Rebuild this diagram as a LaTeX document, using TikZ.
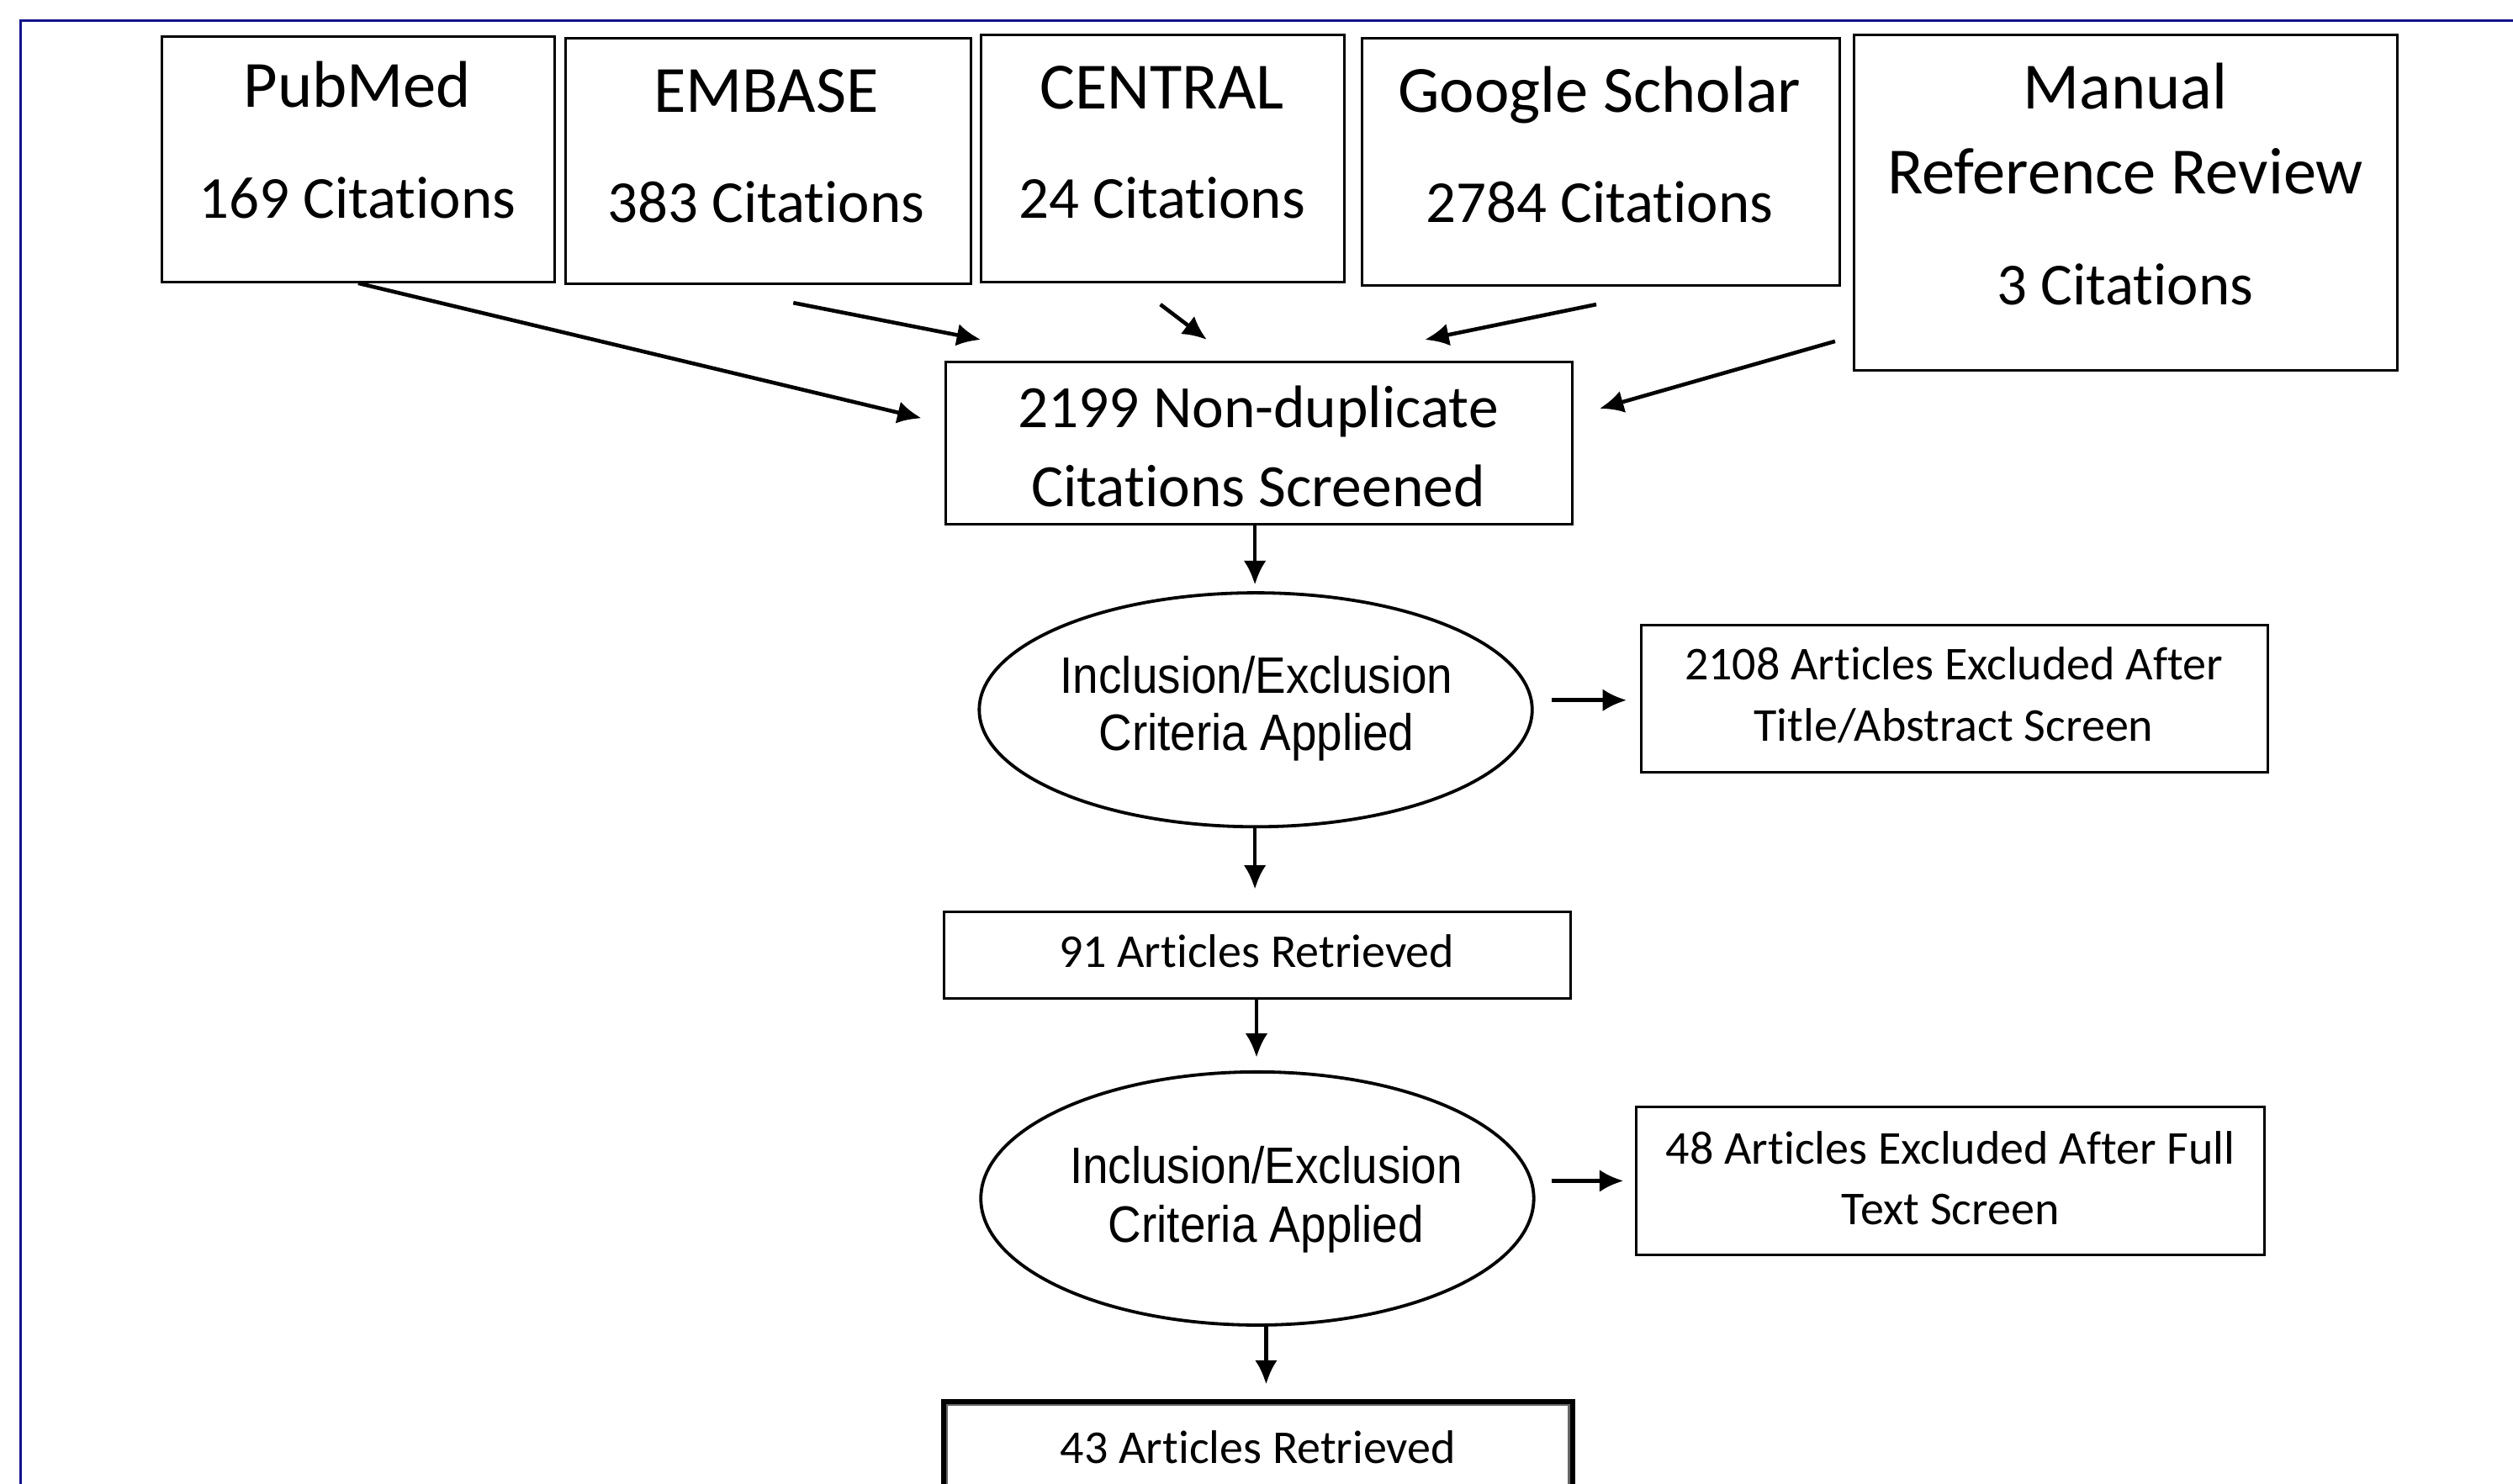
\documentclass[tikz,border=0pt]{standalone}
\usepackage{fontspec}
\newfontfamily\calfont[Ligatures=NoCommon]{Carlito}
\newfontfamily\arlfont[FakeStretch=0.9]{Liberation Sans}
\usetikzlibrary{arrows.meta,fit,shapes.geometric}
\definecolor{frameblue}{RGB}{20,20,140}
\begin{document}
\begin{tikzpicture}[x=0.5pt,y=-0.5pt,
  box/.style={draw, rectangle, line width=0.75pt, inner sep=0pt},
  oval/.style={draw, ellipse, line width=1pt, inner sep=0pt},
  arr/.style={-{Latex[length=7.5pt,width=7pt]}, line width=1.2pt},
  ttl/.style={anchor=base, inner sep=0pt, font=\calfont\fontsize{20.6pt}{24pt}\selectfont},
  cit/.style={anchor=base, inner sep=0pt, font=\calfont\fontsize{18.6pt}{22pt}\selectfont},
  mid/.style={anchor=base, inner sep=0pt, font=\calfont\fontsize{18.75pt}{22pt}\selectfont},
  ell/.style={anchor=base, inner sep=0pt, font=\arlfont\fontsize{16pt}{19pt}\selectfont},
  sml/.style={anchor=base, inner sep=0pt, font=\calfont\fontsize{14.7pt}{18pt}\selectfont}]
\useasboundingbox (0,0) rectangle (1568,926);
\fill[white] (0,0) rectangle (1568,926);
% blue frame
\draw[frameblue, line width=0.9pt] (13,1000) -- (13,13) -- (1600,13);

% source boxes
\node[box, fit={(101,23) (346,176)}] (pubmed) {};
\node[ttl] (pubmedT) at (223,67) {PubMed};
\node[cit] (pubmedC) at (223,136) {169 Citations};

\node[box, fit={(353,24) (606,177)}] (embase) {};
\node[ttl] (embaseT) at (478,70) {EMBASE};
\node[cit] (embaseC) at (478,139) {383 Citations};

\node[box, fit={(612,22) (839,176)}] (central) {};
\node[ttl] (centralT) at (725,68) {CENTRAL};
\node[cit] (centralC) at (725,136) {24 Citations};

\node[box, fit={(850,24) (1148,178)}] (google) {};
\node[ttl] (googleT) at (998,70) {Google Scholar};
\node[cit] (googleC) at (998,139) {2784 Citations};

\node[box, fit={(1157,22) (1496,231)}] (manual) {};
\node[ttl] (manualT1) at (1326,68) {Manual};
\node[ttl] (manualT2) at (1326,121) {Reference Review};
\node[cit] (manualC) at (1326,190) {3 Citations};

% screened
\node[box, fit={(590,226) (981,327)}] (screen) {};
\node[mid] (screenT1) at (785,267) {2199 Non-duplicate};
\node[mid] (screenT2) at (785,316) {Citations Screened};

% ellipse 1
\node[oval, minimum width=172.5pt, minimum height=73pt] (e1) at (783.5,443) {};
\node[ell] (e1T1) at (784,432.5) {Inclusion/Exclusion};
\node[ell] (e1T2) at (784,468.5) {Criteria Applied};

\node[box, fit={(1024,390) (1415,482)}] (ex1) {};
\node[sml] (ex1T1) at (1219,424.5) {2108 Articles Excluded After};
\node[sml] (ex1T2) at (1219,462.5) {Title/Abstract Screen};

% 91 retrieved
\node[box, fit={(589,569) (980,623)}] (r91) {};
\node[sml] (r91T) at (784,603.5) {91 Articles Retrieved};

% ellipse 2
\node[oval, minimum width=172.5pt, minimum height=79pt] (e2) at (784.5,748) {};
\node[ell] (e2T1) at (790,738.5) {Inclusion/Exclusion};
\node[ell] (e2T2) at (790,775.5) {Criteria Applied};

\node[box, fit={(1021,691) (1413,783)}] (ex2) {};
\node[sml] (ex2T1) at (1217,726.5) {48 Articles Excluded After Full};
\node[sml] (ex2T2) at (1217,764.5) {Text Screen};

% 43 retrieved (double border)
\node[draw, rectangle, line width=1.8pt, inner sep=0pt, fit={(589,875) (981,970)}] (r43) {};
\draw[black!60, line width=0.6pt] ([shift={(3.8,3.8)}]r43.north west) rectangle ([shift={(-3.8,-3.8)}]r43.south east);
\node[sml] (r43T) at (785,913.5) {43 Articles Retrieved};

% arrow end points
\coordinate (a1e) at (575,261);
\coordinate (a2s) at (495,189); \coordinate (a2e) at (612,212);
\coordinate (a3s) at (724,190); \coordinate (a3e) at (753,212);
\coordinate (a4s) at (996,190); \coordinate (a4e) at (889,212);
\coordinate (a5s) at (1145,213); \coordinate (a5e) at (998,255);
\coordinate (a6e) at (783,365);
\coordinate (a7s) at (968,437); \coordinate (a7e) at (1015,437);
\coordinate (a8e) at (783,555);
\coordinate (a9e) at (784,660);
\coordinate (a10s) at (968,737); \coordinate (a10e) at (1013,737);
\coordinate (a11e) at (790,864);

\draw[arr] (pubmed.south) -- (a1e);
\draw[arr] (a2s) -- (a2e);
\draw[arr] (a3s) -- (a3e);
\draw[arr] (a4s) -- (a4e);
\draw[arr] (a5s) -- (a5e);
\draw[arr] (screen.south -| a6e) -- (a6e);
\draw[arr] (a7s) -- (a7e);
\draw[arr] (e1.south -| a8e) -- (a8e);
\draw[arr] (r91.south -| a9e) -- (a9e);
\draw[arr] (a10s) -- (a10e);
\draw[arr] (e2.south -| a11e) -- (a11e);
\end{tikzpicture}
\end{document}
